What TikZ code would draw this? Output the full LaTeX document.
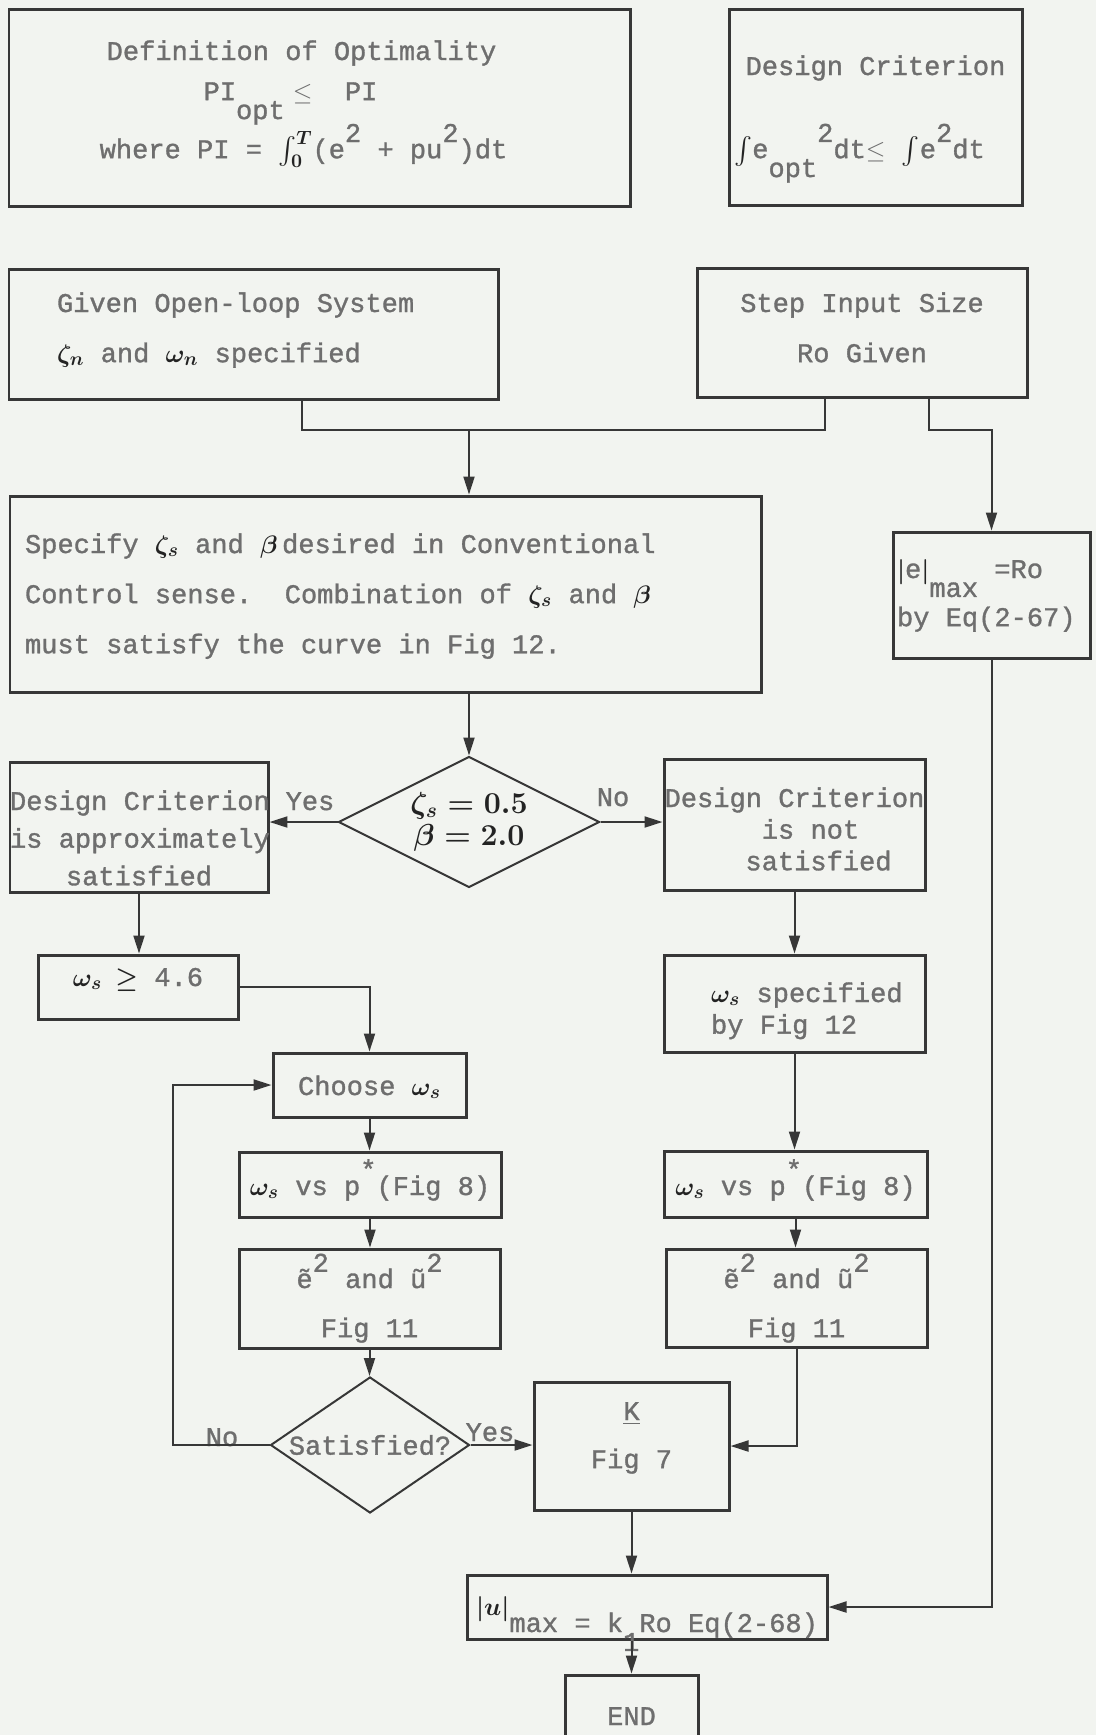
\documentclass[tikz,border=0pt]{standalone}
\usepackage{amsmath, amssymb}
\usepackage{fontspec}
\usepackage{tikz}
\usetikzlibrary{shapes.geometric,arrows.meta,positioning}
\newfontfamily\typewr[FakeBold=1.2]{Liberation Mono}
\newdimen\pxu \pxu=0.02cm
\newcommand{\rais}[1]{\raisebox{0.6em}[0pt][0pt]{#1}}
\newcommand{\lowr}[1]{\raisebox{-0.7em}[0pt][0pt]{#1}}
\newcommand{\wide}{\spaceskip=0.6em\relax\xspaceskip=0.6em\relax}
\definecolor{paper}{RGB}{242,244,240}
\definecolor{ink}{RGB}{55,55,55}
\definecolor{typed}{RGB}{110,110,110}
\definecolor{pen}{RGB}{35,35,35}
\newcommand{\hw}[1]{{\color{pen}\boldmath$#1$}}
\frenchspacing
\tikzset{
  every node/.style={font=\typewr\fontsize{15.4}{18}\selectfont, text=typed},
  bx/.style n args={4}{draw=ink, line width=0.06cm, text width=#1\pxu, inner xsep=#2\pxu,
    inner ysep=0pt, text height=#3\pxu, text depth=#4\pxu, execute at begin node=\wide},
  dmd/.style={diamond, draw=ink, line width=0.04cm, inner sep=0pt, align=center},
  arr/.style={draw=ink, line width=0.04cm, -{Triangle[length=0.36cm,width=0.22cm]}},
  ln/.style={draw=ink, line width=0.04cm},
  lbl/.style={anchor=base}
}
\begin{document}
\begin{tikzpicture}[x=0.02cm, y=-0.02cm]
  \useasboundingbox (0,0) rectangle (1096,1735);
  \fill[paper] (0,0) rectangle (1096,1735);
  % Criteria at the top
  \node[bx={621}{0}{51}{146}, align=center] (optim) at (319.5,107.5)
    {\mbox{Definition of Optimality\hspace{36\pxu}}\\[0.17cm]
     \mbox{PI\lowr{opt}\hspace{8\pxu}$\leq$\ \ PI\hspace{58\pxu}}\\[0.53cm]
     where PI = \hw{\int_0^T}(e\rais{2} + pu\rais{2})dt\hspace*{32\pxu}};
  \node[bx={293}{0}{66}{130}, align=center] (crit) at (875.5,107)
    {Design Criterion\\[1.03cm]
     \hw{\int}e\lowr{opt}\rais{2}dt$\leq$ \hw{\int}e\rais{2}dt\hspace*{32\pxu}};
  % Given data
  \node[bx={393}{48}{43}{87}, align=left] (given) at (253.5,334)
    {Given Open-loop System\\[0.37cm]
     \hw{\zeta_n} and \hw{\omega_n} specified};
  \node[bx={330}{0}{44}{85}, align=center] (step) at (862,332.5)
    {Step Input Size\\[0.37cm] Ro Given};
  \node[bx={721}{15}{57}{139}, align=left] (spec) at (385.5,594)
    {Specify \hw{\zeta_s} and \hw{\beta}\,desired in Conventional\\[0.37cm]
     Control sense.\ \ Combination of \hw{\zeta_s} and \hw{\beta}\\[0.37cm]
     must satisfy the curve in Fig 12.};
  \node[bx={189}{4}{46}{80}, align=left] (emax) at (991.5,595)
    {\hw{|}e\hw{|}\lowr{max} =Ro\\[0.33cm] by Eq(2-67)};
  % First decision
  \node[dmd, aspect=2, minimum width=261\pxu, minimum height=131\pxu,
    font=\typewr\fontsize{17.5}{20}\selectfont] (zbeta) at (469,822)
    {\hw{\zeta_s = 0.5}\\[-0.05cm] \hw{\beta = 2.0}};
  \node[bx={258}{0}{48}{82}, align=center] (approx) at (139,827)
    {\mbox{Design Criterion}\\[0.12cm] \mbox{is approximately}\\[0.12cm] satisfied};
  \node[bx={261}{0}{48}{83}, align=center] (notsat) at (794.5,824.5)
    {\mbox{Design Criterion}\\ \hspace*{32\pxu}is not\\ \hspace*{48\pxu}satisfied};
  % Left branch
  \node[bx={200}{0}{31}{33}, align=center] (wge) at (138,987) {\hw{\omega_s \geq} 4.6};
  \node[bx={193}{0}{42}{22}, align=center] (choose) at (369.5,1085) {Choose \hw{\omega_s}};
  \node[bx={262}{0}{43}{22}, align=center] (pstarL) at (370,1184.5)
    {\hw{\omega_s} vs p\rais{*}(Fig 8)};
  \node[bx={261}{0}{39}{60}, align=center] (eusqL) at (369.5,1298.5)
    {ẽ\rais{2} and ũ\rais{2}\\[0.35cm] Fig 11};
  \node[dmd, aspect=1.46, minimum width=199\pxu, minimum height=136\pxu] (satq) at (370,1445)
    {Satisfied?};
  % Right branch
  \node[bx={167}{47}{47}{50}, align=left] (wspec) at (794.5,1003.5)
    {\mbox{\hw{\omega_s} specified}\\ by Fig 12};
  \node[bx={263}{0}{44}{22}, align=center] (pstarR) at (795.5,1184)
    {\hw{\omega_s} vs p\rais{*}(Fig 8)};
  \node[bx={261}{0}{39}{59}, align=center] (eusqR) at (796.5,1298)
    {ẽ\rais{2} and ũ\rais{2}\\[0.35cm] Fig 11};
  % Gain and end
  \node[bx={195}{0}{38}{90}, align=center] (kgain) at (631.5,1446)
    {\underline{K}\\[0.33cm] Fig 7};
  \node[bx={360}{0}{57}{7}, align=center] (umax) at (647,1607)
    {\rais{\hw{|u|}}max = k\lowr{1}Ro Eq(2-68)};
  \node[bx={133}{0}{50}{50}, align=center] (stop) at (631.5,1725) {END};
  % Labels
  \node[lbl] (yesA) at (310,810) {Yes};
  \node[lbl] (noA) at (613,806) {No};
  \node[lbl] (noB) at (222,1446) {No};
  \node[lbl] (yesB) at (490,1441) {Yes};
  % Connectors
  \coordinate (jL) at (302,430);
  \coordinate (jM) at (469,430);
  \coordinate (jR) at (825,430);
  \coordinate (jS) at (929,430);
  \coordinate (backx) at (173,1086);
  \draw[ln] (given.south -| jL) -- (jL) -- (jR) -- (step.south -| jR);
  \draw[arr] (jM) -- (spec.north -| jM);
  \draw[arr] (step.south -| jS) -- (jS) -| (emax.north);
  \draw[arr] (spec.south -| zbeta.north) -- (zbeta.north);
  \draw[arr] (zbeta.west) -- (zbeta.west -| approx.east);
  \draw[arr] (zbeta.east) -- (zbeta.east -| notsat.west);
  \draw[arr] (approx.south) -- (approx.south |- wge.north);
  \draw[arr] (wge.east) -| (choose.north);
  \draw[arr] (choose.south) -- (choose.south |- pstarL.north);
  \draw[arr] (pstarL.south) -- (pstarL.south |- eusqL.north);
  \draw[arr] (eusqL.south) -- (eusqL.south |- satq.north);
  \draw[arr] (satq.west) -- (satq.west -| backx) |- (choose.west);
  \draw[arr] (satq.east) -- (satq.east -| kgain.west);
  \draw[arr] (notsat.south) -- (notsat.south |- wspec.north);
  \draw[arr] (wspec.south) -- (wspec.south |- pstarR.north);
  \draw[arr] (pstarR.south) -- (pstarR.south |- eusqR.north);
  \draw[arr] (eusqR.south) |- (kgain.east);
  \draw[arr] (kgain.south) -- (kgain.south |- umax.north);
  \draw[arr] (emax.south) |- (umax.east);
  \draw[arr] (umax.south -| stop.north) -- (stop.north);
\end{tikzpicture}
\end{document}
